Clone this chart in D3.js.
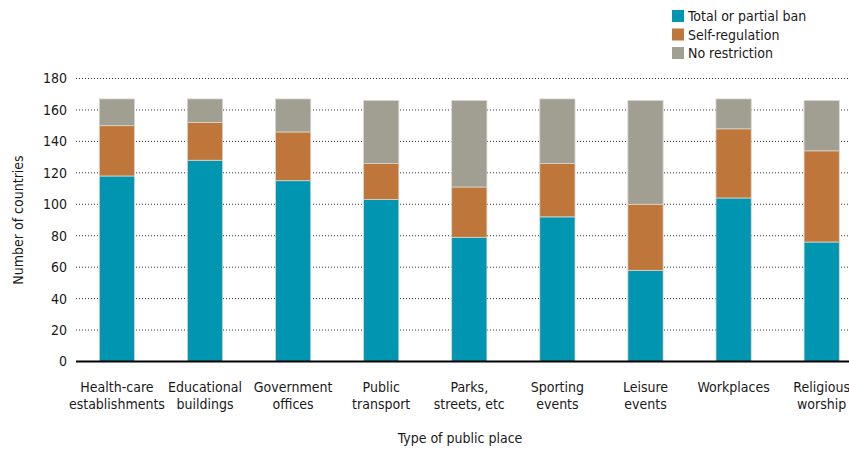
<!DOCTYPE html>
<html><head><meta charset="utf-8">
<script src="https://cdn.jsdelivr.net/npm/d3@7"></script>
<style>
body{margin:0;background:#fff;}
text{font-family:"Liberation Sans Narrow","DejaVu Sans Condensed","Roboto Condensed",sans-serif;fill:#1a1a1a;}
</style></head>
<body><svg id="c" width="849" height="450"></svg>
<script>
const categories = [["Health-care","establishments"],["Educational","buildings"],["Government","offices"],["Public","transport"],["Parks,","streets, etc"],["Sporting","events"],["Leisure","events"],["Workplaces"],["Religious","worship"]];
const seriesNames = ["Total or partial ban","Self-regulation","No restriction"];
const totalBan = [118,128,115,103,79,92,58,104,76];
const selfReg = [32,24,31,23,32,34,42,44,58];
const noRestriction = [17,15,21,40,55,41,66,19,32];
const yTicks = [0,20,40,60,80,100,120,140,160,180];
const colors = ["#0095b0","#bf763b","#a19f91"];

const svg = d3.select("#c");
const keys = categories.map((c,i)=>"c"+i);
const rows = keys.map((k,i)=>({key:k, a:totalBan[i], b:selfReg[i], c:noRestriction[i]}));
const stack = d3.stack().keys(["a","b","c"])(rows);

const x = d3.scaleBand().domain(keys).range([99.3,839.3]).paddingInner(0.6).paddingOuter(0);
const y = d3.scaleLinear().domain([0,180]).range([361.5,78.5]);

// gridlines
svg.append("g").selectAll("line").data(yTicks.filter(d=>d>0)).join("line")
  .attr("x1",76).attr("x2",849).attr("y1",d=>y(d)).attr("y2",d=>y(d))
  .attr("stroke","#333").attr("stroke-width",1).attr("stroke-dasharray","1,2");

// y axis labels
const ya = svg.append("g").attr("transform","translate(76,0)")
  .call(d3.axisLeft(y).tickValues(yTicks).tickSize(0).tickPadding(9));
ya.select(".domain").remove();
ya.selectAll("text").attr("font-size",14).style("font-family",null);

// bars
svg.append("g").selectAll("g").data(stack).join("g").attr("fill",(d,i)=>colors[i])
  .selectAll("rect").data(d=>d).join("rect")
  .attr("x",d=>x(d.data.key)).attr("width",x.bandwidth())
  .attr("y",d=>y(d[1])).attr("height",d=>y(d[0])-y(d[1]))
  .attr("stroke","#d9d6cc").attr("stroke-width",0.8);

// baseline
svg.append("line").attr("x1",76).attr("x2",849).attr("y1",y(0)).attr("y2",y(0))
  .attr("stroke","#000").attr("stroke-width",2);

// x labels
const xl = svg.append("g").selectAll("text").data(categories).join("text")
  .attr("x",(d,i)=>x(keys[i])+x.bandwidth()/2).attr("y",392)
  .attr("text-anchor","middle").attr("font-size",14);
xl.selectAll("tspan").data(d=>d).join("tspan")
  .attr("x",function(){return d3.select(this.parentNode).attr("x");})
  .attr("dy",(d,i)=>i===0?0:17).text(d=>d);

// axis titles
svg.append("text").attr("x",460).attr("y",443).attr("text-anchor","middle").attr("font-size",14).text("Type of public place");
svg.append("text").attr("transform","translate(23,220) rotate(-90)").attr("text-anchor","middle").attr("font-size",14).text("Number of countries");

// legend
const lg = svg.append("g").selectAll("g").data(seriesNames).join("g")
  .attr("transform",(d,i)=>`translate(672,${10+i*18.5})`);
lg.append("rect").attr("width",12).attr("height",12).attr("fill",(d,i)=>colors[i]);
lg.append("text").attr("x",16).attr("y",11).attr("font-size",14).text(d=>d);
</script></body></html>
